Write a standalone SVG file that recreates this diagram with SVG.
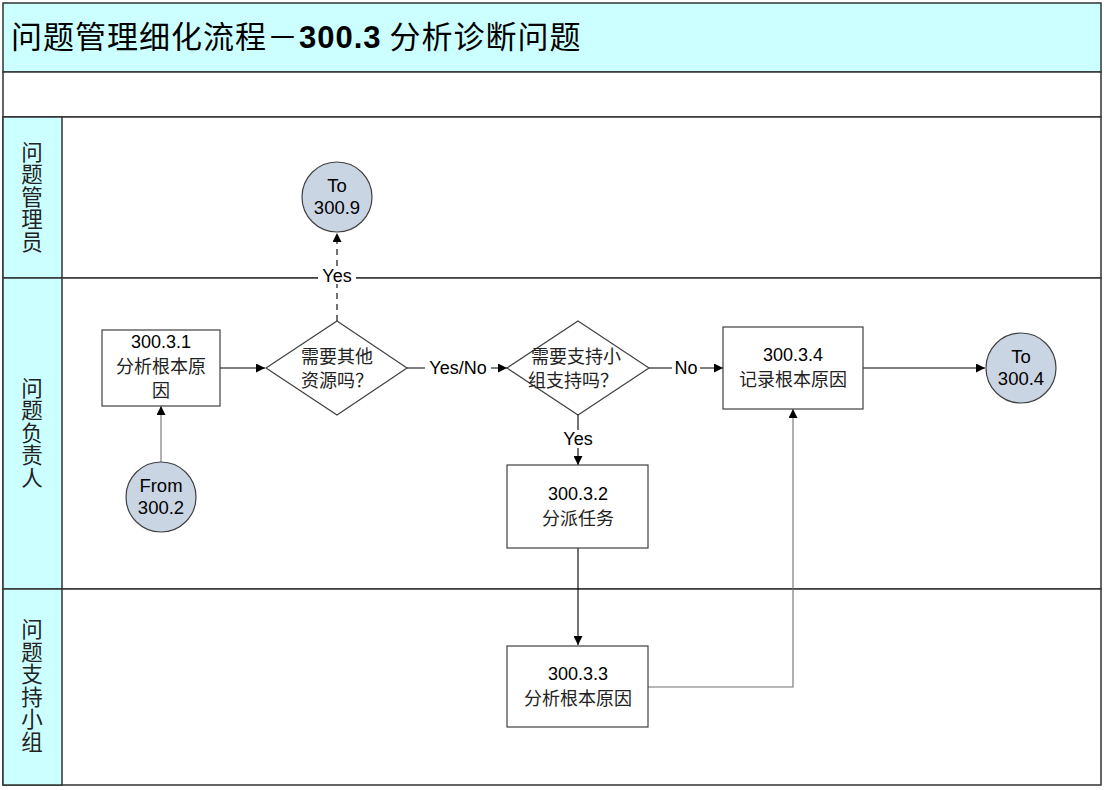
<svg xmlns="http://www.w3.org/2000/svg" width="1106" height="790" viewBox="0 0 1106 790">
<defs>
<style>
.frame{fill:none;stroke:#333;stroke-width:1.5}
.lane{fill:#fff;stroke:#333;stroke-width:1.5}
.hdr{fill:#CCFFFF;stroke:#333;stroke-width:1.5}
.box{fill:#fff;stroke:#404040;stroke-width:1.2}
.circ{fill:#CAD5E4;stroke:#404040;stroke-width:1.2}
.t{font-family:"Liberation Sans","Noto Sans CJK SC",sans-serif;font-size:18px;fill:#000;text-anchor:middle}
.cjk{font-family:"Noto Sans CJK SC","Liberation Sans",sans-serif;font-size:18px;fill:#222;text-anchor:middle}
.ct{font-family:"Liberation Sans",sans-serif;font-size:18.5px;fill:#000;text-anchor:middle}
.lbl{font-family:"Noto Sans CJK SC",sans-serif;font-size:21.5px;fill:#222;text-anchor:middle;writing-mode:vertical-rl;letter-spacing:1px}
.edge{fill:none;stroke:#000;stroke-width:1.1}
.grey{stroke:#707070}
.dash{stroke-dasharray:6,5}
.el{font-family:"Liberation Sans",sans-serif;font-size:18px;fill:#000;text-anchor:middle}
</style>
<marker id="arr" viewBox="0 0 10 10" refX="10" refY="5" markerWidth="12" markerHeight="9" markerUnits="userSpaceOnUse" orient="auto">
<path d="M0,0 L10,5 L0,10 z" fill="#000"/>
</marker>
</defs>
<rect x="0" y="0" width="1106" height="790" fill="#fff"/>
<g id="frame">
<rect class="hdr" x="3" y="3" width="1098" height="69"/>
<rect class="lane" x="3" y="72" width="1098" height="45"/>
<rect class="lane" x="3" y="117" width="1098" height="161"/>
<rect class="lane" x="3" y="278" width="1098" height="311"/>
<rect class="lane" x="3" y="589" width="1098" height="196"/>
<rect class="hdr" x="3" y="117" width="59" height="161"/>
<rect class="hdr" x="3" y="278" width="59" height="311"/>
<rect class="hdr" x="3" y="589" width="59" height="196"/>
<text x="11" y="48" font-family="Noto Sans CJK SC,Liberation Sans,sans-serif" font-size="31" letter-spacing="1" fill="#000">问题管理细化流程－<tspan font-family="Liberation Sans,sans-serif" font-weight="bold">300.3</tspan> 分析诊断问题</text>
<text class="lbl" x="32" y="197">问题管理员</text>
<text class="lbl" x="32" y="433">问题负责人</text>
<text class="lbl" x="32" y="686">问题支持小组</text>
</g>
<g id="connectors">
<path class="edge" d="M220,368 L265,368" marker-end="url(#arr)"/>
<path class="edge grey" d="M161,462 L161,406" marker-end="url(#arr)"/>
<path class="edge dash" d="M337,321 L337,233" marker-end="url(#arr)"/>
<path class="edge" d="M407,368 L507,368" marker-end="url(#arr)"/>
<path class="edge" d="M649,368 L723,368" marker-end="url(#arr)"/>
<path class="edge" d="M863,368 L985,368" marker-end="url(#arr)"/>
<path class="edge" d="M578,415 L578,465" marker-end="url(#arr)"/>
<path class="edge" d="M578,548 L578,645" marker-end="url(#arr)"/>
<path class="edge grey" d="M648,687 L793,687 L793,409" marker-end="url(#arr)"/>
<rect x="318" y="266" width="38" height="18" fill="#fff"/>
<text class="el" x="337" y="282">Yes</text>
<rect x="425" y="359" width="66" height="18" fill="#fff"/>
<text class="el" x="458" y="374">Yes/No</text>
<rect x="672" y="359" width="28" height="18" fill="#fff"/>
<text class="el" x="686" y="374">No</text>
<rect x="559" y="430" width="38" height="18" fill="#fff"/>
<text class="el" x="578" y="445">Yes</text>
</g>
<g id="n3001">
<rect class="box" x="102" y="330" width="118" height="76"/>
<text class="t" x="161" y="348">300.3.1</text>
<text class="cjk" x="161" y="373">分析根本原</text>
<text class="cjk" x="161" y="397">因</text>
</g>
<g id="d1">
<polygon class="box" points="337,321 407,368 337,415 266,368"/>
<text class="cjk" x="337" y="363">需要其他</text>
<text class="cjk" x="337" y="387">资源吗？</text>
</g>
<g id="to3009">
<circle class="circ" cx="337" cy="197" r="35"/>
<text class="ct" x="337" y="192">To</text>
<text class="ct" x="337" y="214">300.9</text>
</g>
<g id="from3002">
<circle class="circ" cx="161" cy="497" r="35"/>
<text class="ct" x="161" y="492">From</text>
<text class="ct" x="161" y="514">300.2</text>
</g>
<g id="d2">
<polygon class="box" points="578,321 649,368 578,415 507,368"/>
<text class="cjk" x="576" y="363">需要支持小</text>
<text class="cjk" x="573" y="387">组支持吗？</text>
</g>
<g id="n3004">
<rect class="box" x="723" y="327" width="140" height="82"/>
<text class="t" x="793" y="361">300.3.4</text>
<text class="cjk" x="793" y="386">记录根本原因</text>
</g>
<g id="to3004">
<circle class="circ" cx="1021" cy="368" r="35"/>
<text class="ct" x="1021" y="363">To</text>
<text class="ct" x="1021" y="385">300.4</text>
</g>
<g id="n3002">
<rect class="box" x="507" y="465" width="141" height="83"/>
<text class="t" x="578" y="500">300.3.2</text>
<text class="cjk" x="578" y="525">分派任务</text>
</g>
<g id="n3003">
<rect class="box" x="507" y="646" width="141" height="81"/>
<text class="t" x="578" y="680">300.3.3</text>
<text class="cjk" x="578" y="705">分析根本原因</text>
</g>
</svg>
